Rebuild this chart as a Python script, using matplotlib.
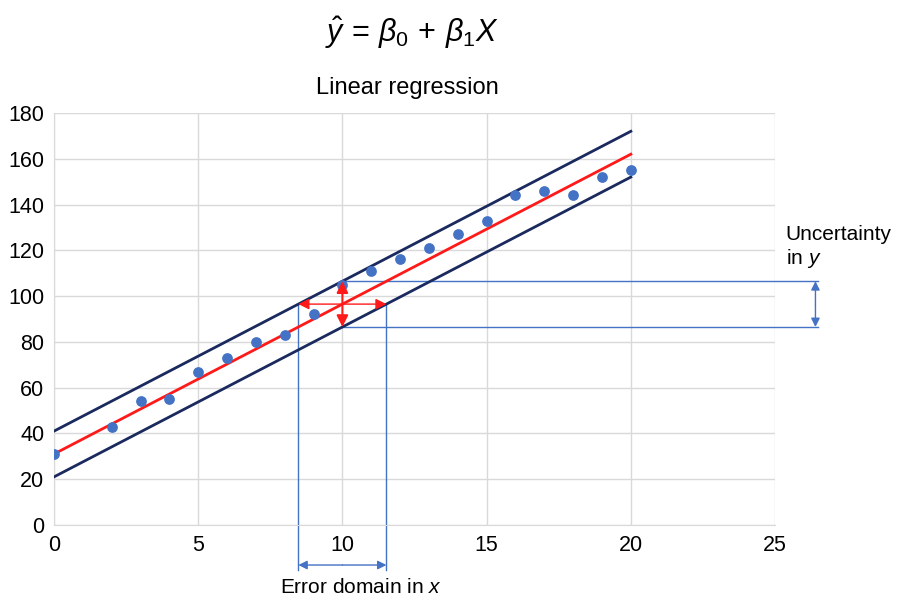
import numpy as np
import matplotlib.pyplot as plt

plt.rcParams['font.family'] = ['Liberation Sans', 'DejaVu Sans']
plt.rcParams['mathtext.fontset'] = 'custom'
plt.rcParams['mathtext.rm'] = 'Liberation Sans'
plt.rcParams['mathtext.it'] = 'Liberation Sans:italic'

# observations
x_obs = [0, 2, 3, 4, 5, 6, 7, 8, 9, 10, 11, 12, 13, 14, 15, 16, 17, 18, 19, 20]
y_obs = [31, 43, 54, 55, 67, 73, 80, 83, 92, 105, 111, 116, 121, 127, 133, 144, 146, 144, 152, 155]

# fitted line and band
b0 = 31.0
b1 = 6.55
band = 10.0
x_line = [0, 20]
x0 = 10  # point where the uncertainty is shown

x_ticks = [0, 5, 10, 15, 20, 25]
y_ticks = [0, 20, 40, 60, 80, 100, 120, 140, 160, 180]

navy = '#1b2a5e'
blue = '#4472c4'
red = '#ff1a1a'

fig = plt.figure(figsize=(8.98, 6.01), dpi=100)
ax = fig.add_axes([0.0601, 0.1265, 0.803, 0.6855])

xl = np.array(x_line, dtype=float)
ax.plot(xl, b0 + band + b1 * xl, color=navy, lw=2, zorder=3)
ax.plot(xl, b0 - band + b1 * xl, color=navy, lw=2, zorder=3)
ax.plot(xl, b0 + b1 * xl, color=red, lw=2, zorder=3)
ax.scatter(x_obs, y_obs, s=60, color=blue, zorder=4, linewidths=0)

# error geometry at x0
y0 = b0 + b1 * x0
y_hi = y0 + band
y_lo = y0 - band
x_left = (y0 - (b0 + band)) / b1
x_right = (y0 - (b0 - band)) / b1
x_far = 26.5
y_far = -19.5

thin = dict(color=blue, lw=1, clip_on=False, zorder=2)
ax.plot([x0, x_far], [y_hi, y_hi], **thin)
ax.plot([x0, x_far], [y_lo, y_lo], **thin)
ax.plot([x_left, x_left], [y0, y_far], **thin)
ax.plot([x_right, x_right], [y0, y_far], **thin)


def arrow(p, q, color, lw, ms):
    ax.annotate('', xy=q, xytext=p, annotation_clip=False,
                arrowprops=dict(arrowstyle='-|>', color=color, lw=lw,
                                mutation_scale=ms, shrinkA=0, shrinkB=0),
                zorder=5)


# red arrows from the fitted point
arrow((x0, y0), (x0, y_hi), red, 1.5, 17)
arrow((x0, y0), (x0, y_lo), red, 1.5, 17)
arrow((x0, y0), (x_left, y0), red, 1.0, 16)
arrow((x0, y0), (x_right, y0), red, 1.0, 16)

# blue double arrows outside the plot
x_ar = 26.4
y_ar = -17.5
y_mid = (y_hi + y_lo) / 2
x_mid = (x_left + x_right) / 2
arrow((x_ar, y_mid), (x_ar, y_hi), blue, 1, 13)
arrow((x_ar, y_mid), (x_ar, y_lo), blue, 1, 13)
arrow((x_mid, y_ar), (x_left, y_ar), blue, 1, 13)
arrow((x_mid, y_ar), (x_right, y_ar), blue, 1, 13)

ax.set_xlim(0, 25)
ax.set_ylim(0, 180)
ax.set_xticks(x_ticks)
ax.set_yticks(y_ticks)
ax.grid(True, color='#d9d9d9', lw=1)
ax.set_axisbelow(True)
for s in ['top', 'right']:
    ax.spines[s].set_visible(False)
for s in ['left', 'bottom']:
    ax.spines[s].set_color('#d9d9d9')
ax.tick_params(length=0, labelsize=15.5, pad=7)

ax.set_title('Linear regression', fontsize=17, pad=14, x=0.49)
fig.text(0.459, 0.945, r'$\hat{y}\,=\,\beta_0\,+\,\beta_1 X$', fontsize=22,
         ha='center', va='center')
fig.text(0.875, 0.588, 'Uncertainty\nin $y$', fontsize=15, ha='left',
         va='center', linespacing=1.15)
fig.text(0.402, 0.022, 'Error domain in $x$', fontsize=15, ha='center',
         va='center')

fig.savefig('out.png', dpi=100)
